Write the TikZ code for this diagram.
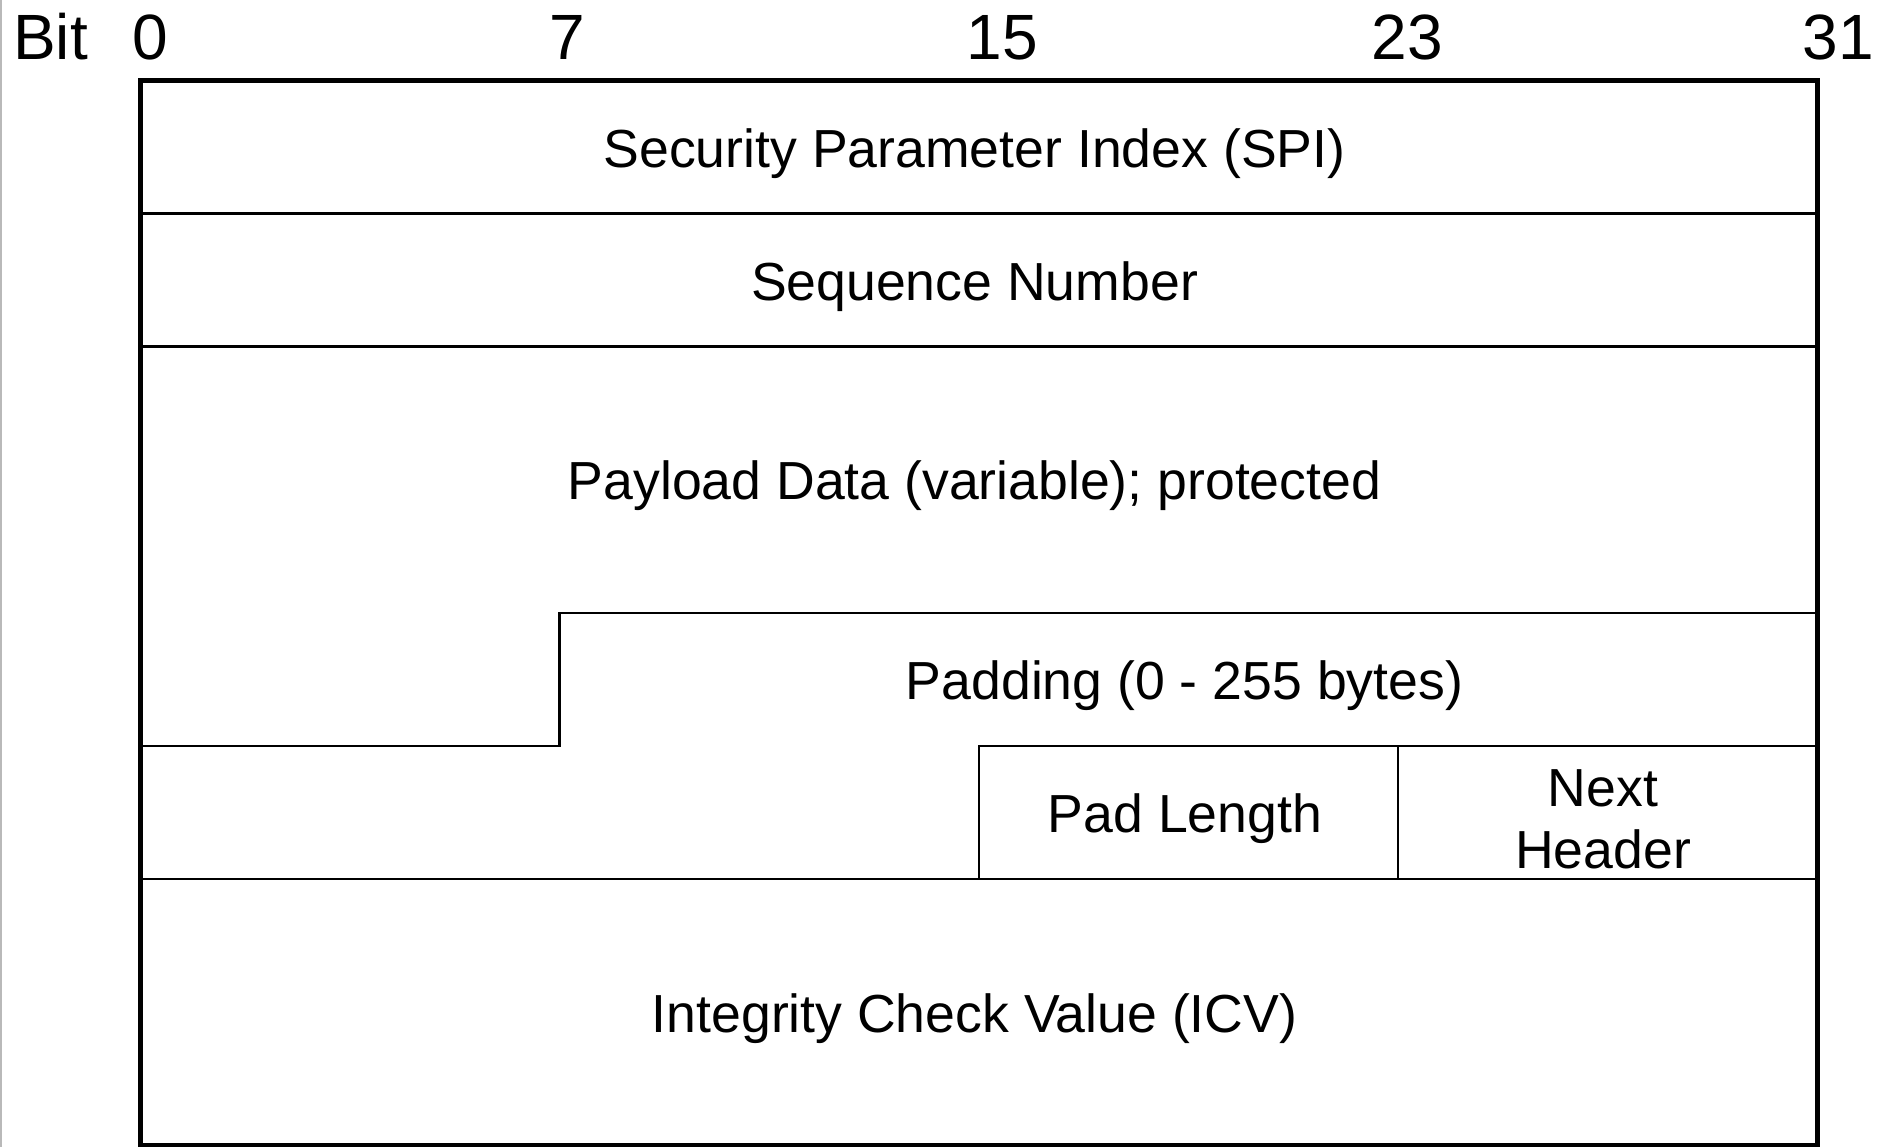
\documentclass[tikz,border=0pt]{standalone}
\usepackage{fontspec}
\setmainfont{Liberation Sans}
\begin{document}
\begin{tikzpicture}[x=1pt,y=-1pt,
  outerline/.style={line width=5.5pt, line join=miter},
  innerline/.style={line width=2.6pt, line join=miter},
  bitlbl/.style={font=\fontsize{64}{70}\selectfont, inner sep=0pt, anchor=base},
  field/.style={font=\fontsize{53.6}{61.5}\selectfont, inner sep=0pt, align=center}]
\useasboundingbox (0,0) rectangle (1879,1147);
% faint edge line
\draw[gray!55, line width=1.5pt] (0.75,0) -- (0.75,1147);
% grid coordinates
\coordinate (tl) at (140.5,80.5);
\coordinate (tr) at (1817.3,80.5);
\coordinate (bl) at (140.5,1145.3);
\coordinate (br) at (1817.3,1145.3);
\coordinate (r1l) at (140.5,213.6);
\coordinate (r1r) at (1817.3,213.6);
\coordinate (r2l) at (140.5,346.7);
\coordinate (r2r) at (1817.3,346.7);
\coordinate (s1) at (140.5,746.0);
\coordinate (s2) at (559.7,746.0);
\coordinate (s3) at (559.7,612.9);
\coordinate (s4) at (1817.3,612.9);
\coordinate (p1) at (978.9,879.1);
\coordinate (p2) at (978.9,746.0);
\coordinate (p3) at (1817.3,746.0);
\coordinate (n1) at (1398.1,746.0);
\coordinate (n2) at (1398.1,879.1);
\coordinate (r6l) at (140.5,879.1);
\coordinate (r6r) at (1817.3,879.1);
% inner lines
\draw[innerline] (r1l) -- (r1r);
\draw[innerline] (r2l) -- (r2r);
\draw[innerline] (s1) -- (s2) -- (s3) -- (s4);
\draw[innerline] (p1) -- (p2) -- (p3);
\draw[innerline] (n1) -- (n2);
\draw[innerline] (r6l) -- (r6r);
% outer box
\draw[outerline] (tl) -- (tr) -- (br) -- (bl) -- cycle;
% bit labels
\node[bitlbl] (bit) at (50.5,59.3) {Bit};
\node[bitlbl] (b0) at (150,59.3) {0};
\node[bitlbl] (b7) at (567,59.3) {7};
\node[bitlbl] (b15) at (1002,59.3) {15};
\node[bitlbl] (b23) at (1407,59.3) {23};
\node[bitlbl] (b31) at (1838,59.3) {31};
% fields
\node[field] (spi) at (974.5,153.5) {Security Parameter Index (SPI)};
\node[field] (seq) at (974.5,286.5) {Sequence Number};
\node[field] (payload) at (974.5,486) {Payload Data (variable); protected};
\node[field] (pad) at (1184.5,686) {Padding (0 - 255 bytes)};
\node[field] (padlen) at (1185,819) {Pad Length};
\node[field] (nexthdr) at (1603,819.5) {Next\\Header};
\node[field] (icv) at (974.5,1018.5) {Integrity Check Value (ICV)};
\end{tikzpicture}
\end{document}
